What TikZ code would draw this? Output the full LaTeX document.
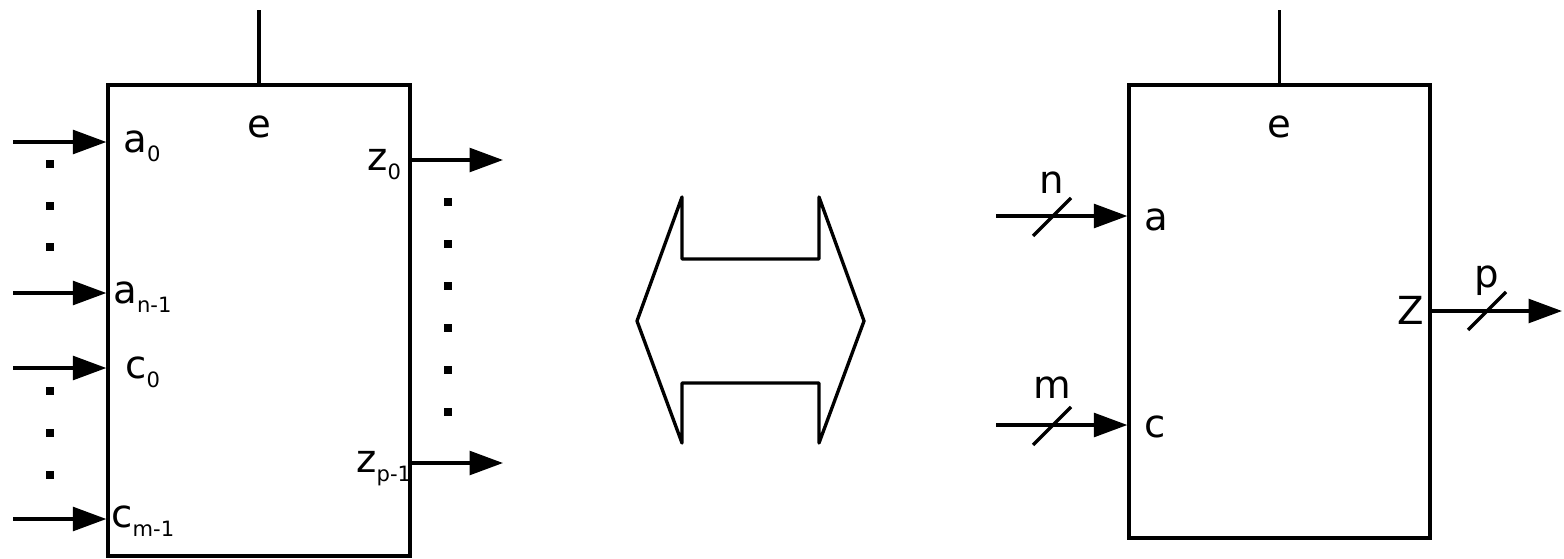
\documentclass[tikz,border=0pt]{standalone}
\usepackage{fontspec}
\setmainfont{DejaVu Sans}
\usetikzlibrary{arrows.meta}

\newcommand{\lsub}[1]{\raisebox{-0.45ex}{\fontsize{12}{14}\selectfont #1}}

\tikzset{
  sig/.style={line width=1.9pt,-{Triangle[length=19pt,width=13.5pt]}},
  blk/.style={draw,line width=1.9pt,inner sep=0pt},
  lbl/.style={font=\fontsize{22}{26}\selectfont,inner sep=0pt},
  dotsq/.style={fill=black,inner sep=0pt,minimum size=4.3pt},
  busmark/.style={line width=1.9pt}
}

\begin{document}
\begin{tikzpicture}[x=0.02cm,y=-0.02cm]
		\useasboundingbox (0,0) rectangle (1564,558);
		%left block
		\node[blk,minimum width=6.04cm,minimum height=9.42cm] (lbox) at (259,320.5) {};
		\coordinate (ltop) at (259,10);
		\draw[line width=1.9pt] (ltop) -- (lbox.north);
		\node[lbl,anchor=base] (le) at (259,137) {e};
		%inputs
		\coordinate (ain0) at (13,142);
		\coordinate (ain1) at (13,293);
		\coordinate (cin0) at (13,368);
		\coordinate (cin1) at (13,519);
		\draw[sig] (ain0) -- (lbox.west |- ain0);
		\draw[sig] (ain1) -- (lbox.west |- ain1);
		\draw[sig] (cin0) -- (lbox.west |- cin0);
		\draw[sig] (cin1) -- (lbox.west |- cin1);
		\node[lbl,anchor=base west] (la0) at (123,152) {a\lsub{0}};
		\node[lbl,anchor=base west] (la1) at (113,303) {a\lsub{n-1}};
		\node[lbl,anchor=base west] (lc0) at (125,378) {c\lsub{0}};
		\node[lbl,anchor=base west] (lc1) at (111,527) {c\lsub{m-1}};
		\foreach \y in {164,206,247,391,433,475}
			\node[dotsq] at (50,\y) {};
		%outputs
		\coordinate (zout0) at (503,160);
		\coordinate (zout1) at (503,463);
		\draw[sig] (lbox.east |- zout0) -- (zout0);
		\draw[sig] (lbox.east |- zout1) -- (zout1);
		\node[lbl,anchor=base west] (lz0) at (367,170) {z\lsub{0}};
		\node[lbl,anchor=base west] (lz1) at (356,472) {z\lsub{p-1}};
		\foreach \y in {202,244,286,328,370,412}
			\node[dotsq] at (448,\y) {};
		%double arrow
		\draw[line width=1.9pt,line join=round] (637,321) -- (682,197) -- (682,259) -- (819,259)
			-- (819,197) -- (864,321) -- (819,443) -- (819,383) -- (682,383) -- (682,443) -- cycle;
		%right block
		\node[blk,minimum width=6.02cm,minimum height=9.06cm] (rbox) at (1279.5,311.5) {};
		\coordinate (rtop) at (1279.5,10);
		\draw[line width=1.9pt] (rtop) -- (rbox.north);
		\node[lbl,anchor=base] (re) at (1279.5,137) {e};
		\coordinate (ain) at (996,216);
		\coordinate (cin) at (996,425);
		\coordinate (zout) at (1562,311);
		\draw[sig] (ain) -- (rbox.west |- ain);
		\draw[sig] (cin) -- (rbox.west |- cin);
		\draw[sig] (rbox.east |- zout) -- (zout);
		\node[lbl,anchor=base west] (ra) at (1144,230) {a};
		\node[lbl,anchor=base west] (rc) at (1144,437) {c};
		\node[lbl,anchor=base east] (rz) at (1424,324) {Z};
		%bus widths
		\coordinate (na) at (1052,217);
		\coordinate (nc) at (1052,426);
		\coordinate (nz) at (1487,311);
		\draw[busmark] (na) ++(-19,19) -- ++(38,-38);
		\draw[busmark] (nc) ++(-19,19) -- ++(38,-38);
		\draw[busmark] (nz) ++(-19,19) -- ++(38,-38);
		\node[lbl,anchor=base] (wn) at (1052,193) {n};
		\node[lbl,anchor=base] (wm) at (1052,398) {m};
		\node[lbl,anchor=base] (wp) at (1487,287) {p};
\end{tikzpicture}
\end{document}
